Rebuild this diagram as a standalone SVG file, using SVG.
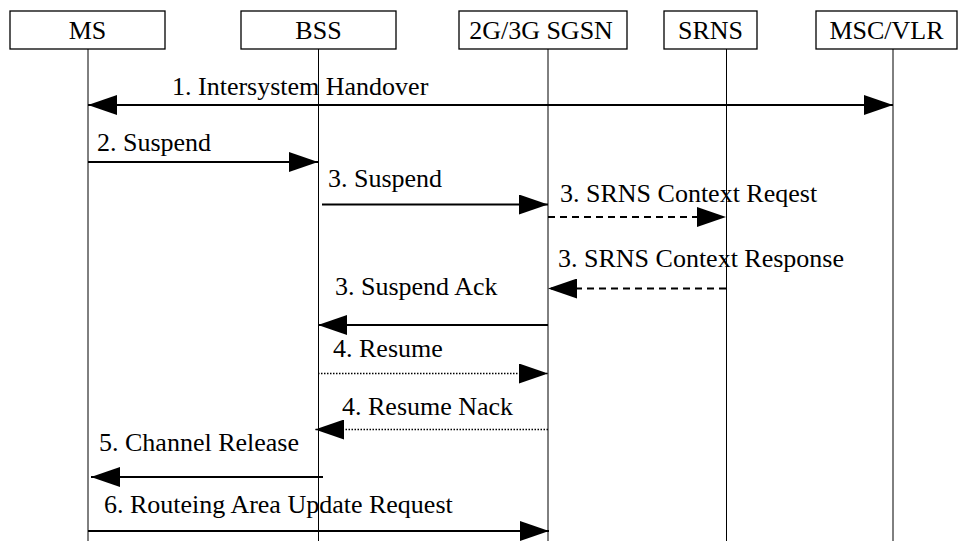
<svg xmlns="http://www.w3.org/2000/svg" width="959" height="541" viewBox="0 0 959 541">
<defs>
<marker id="ah" markerUnits="userSpaceOnUse" markerWidth="30" markerHeight="20" refX="29" refY="10" orient="auto">
<path d="M0,0 L29,10 L0,20 Z" fill="#000"/>
</marker>
<marker id="ahs" markerUnits="userSpaceOnUse" markerWidth="30" markerHeight="20" refX="0" refY="10" orient="auto">
<path d="M29,0 L0,10 L29,20 Z" fill="#000"/>
</marker>
<style>
.box{fill:#fff;stroke:#000;stroke-width:1.3}
.life{stroke:#000;stroke-width:1}
text{font-family:'Liberation Serif','Times New Roman','DejaVu Serif',serif;font-size:26px;fill:#000}
.c{text-anchor:middle}
.m{stroke:#000;stroke-width:2;fill:none;marker-end:url(#ah)}
.d{stroke-dasharray:7,5}
.o{stroke-width:1.5;stroke-dasharray:1.5,1.5}
</style>
</defs>
<rect width="959" height="541" fill="#fff"/>
<g id="MS">
<rect class="box" x="10" y="11" width="155" height="38"/>
<text class="c" x="87.5" y="39" font-family="Liberation Serif, serif">MS</text>
<line class="life" x1="88" y1="49" x2="88" y2="541"/>
</g>
<g id="BSS">
<rect class="box" x="241" y="11" width="155" height="38"/>
<text class="c" x="318.5" y="39">BSS</text>
<line class="life" x1="318.5" y1="49" x2="318.5" y2="541"/>
</g>
<g id="SGSN">
<rect class="box" x="459" y="11" width="168" height="38"/>
<text class="c" x="541" y="39">2G/3G SGSN</text>
<line class="life" x1="548" y1="49" x2="548" y2="541"/>
</g>
<g id="SRNS">
<rect class="box" x="664" y="11" width="93" height="38"/>
<text class="c" x="710.5" y="39">SRNS</text>
<line class="life" x1="726.5" y1="49" x2="726.5" y2="541"/>
</g>
<g id="MSCVLR">
<rect class="box" x="816" y="11" width="141" height="38"/>
<text class="c" x="886.5" y="39">MSC/VLR</text>
<line class="life" x1="893" y1="49" x2="893" y2="541"/>
</g>
<g id="connectors">
<line class="m" x1="88" y1="105" x2="893" y2="105" marker-start="url(#ahs)"/>
<line class="m" x1="88" y1="162" x2="318" y2="162"/>
<line class="m" x1="322" y1="204.5" x2="548" y2="204.5"/>
<line class="m d" x1="548" y1="217" x2="726" y2="217"/>
<line class="m d" x1="726" y1="288.5" x2="548" y2="288.5"/>
<line class="m" x1="548" y1="325" x2="318" y2="325"/>
<line class="m o" x1="318" y1="373.5" x2="548" y2="373.5"/>
<line class="m o" x1="548" y1="429.5" x2="315" y2="429.5"/>
<line class="m" x1="323" y1="477" x2="91" y2="477"/>
<line class="m" x1="88" y1="531" x2="549" y2="531"/>
</g>
<g id="labels">
<text x="172" y="95">1. Intersystem Handover</text>
<text x="97" y="151">2. Suspend</text>
<text x="328" y="187">3. Suspend</text>
<text x="560" y="202">3. SRNS Context Reqest</text>
<text x="558" y="267">3. SRNS Context Response</text>
<text x="335" y="295">3. Suspend Ack</text>
<text x="333" y="357">4. Resume</text>
<text x="342" y="415">4. Resume Nack</text>
<text x="99" y="451">5. Channel Release</text>
<text x="104" y="513">6. Routeing Area Update Request</text>
</g>
</svg>
